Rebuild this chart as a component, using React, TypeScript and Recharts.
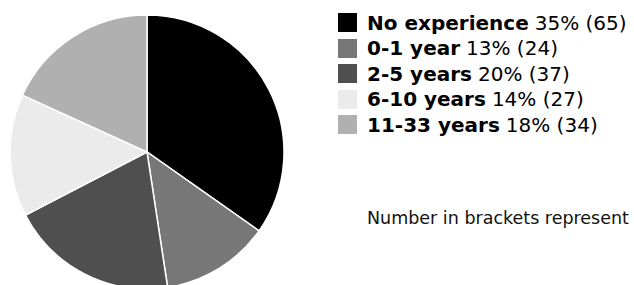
import React from 'react'
import { PieChart, Pie, Cell, Legend } from 'recharts'

const categories = ['No experience', '0-1 year', '2-5 years', '6-10 years', '11-33 years']
const counts = [65, 24, 37, 27, 34]
const percents = ['35%', '13%', '20%', '14%', '18%']
const colors = ['#000000', '#777777', '#4f4f4f', '#ebebeb', '#b0b0b0']
const note = 'Number in brackets represent'

const data = categories.map((name, i) => ({ name, value: counts[i] }))

const fontFamily = '"DejaVu Sans", sans-serif'

const LegendBox = () => (
  <div style={{ fontFamily, color: '#000', whiteSpace: 'nowrap' }}>
    {categories.map((c, i) => (
      <div key={c} style={{ display: 'flex', alignItems: 'center', height: 25.5, fontSize: 20 }}>
        <span style={{ display: 'inline-block', width: 19, height: 19, background: colors[i], marginRight: 10, flexShrink: 0 }} />
        <span style={{ fontWeight: 700 }}>{c}</span>
        <span style={{ marginLeft: 6 }}>{percents[i]} ({counts[i]})</span>
      </div>
    ))}
    <div style={{ fontSize: 17.5, marginTop: 70, marginLeft: 29, color: '#111' }}>{note}</div>
  </div>
)

const App: React.FC = () => {
  return (
    <div style={{ position: 'absolute', left: 0, top: 0, width: 634, height: 285, overflow: 'hidden', background: '#fff' }}>
      <PieChart width={634} height={285} margin={{ top: 0, right: 0, bottom: 0, left: 0 }}>
        <Pie
          data={data}
          dataKey="value"
          nameKey="name"
          cx={147}
          cy={152}
          outerRadius={137}
          startAngle={90}
          endAngle={-270}
          stroke="#ffffff"
          strokeWidth={1.5}
          isAnimationActive={false}
        >
          {data.map((d, i) => (
            <Cell key={d.name} fill={colors[i]} />
          ))}
        </Pie>
        <Legend
          content={<LegendBox />}
          layout="vertical"
          wrapperStyle={{ left: 338, top: 10, width: 296, overflow: 'hidden' }}
        />
      </PieChart>
    </div>
  )
}

export default App
